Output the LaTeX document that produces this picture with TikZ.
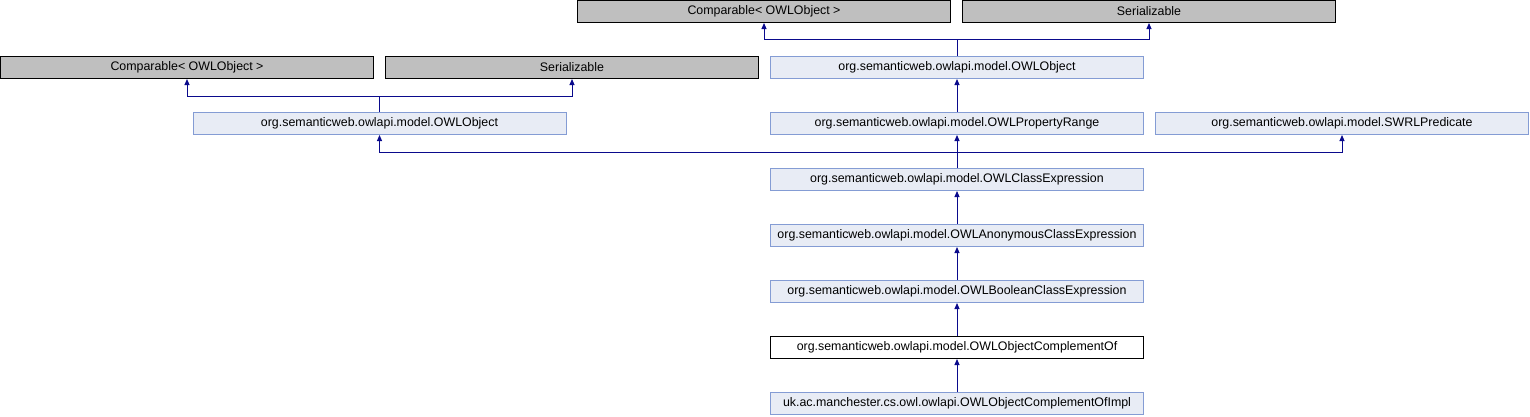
\documentclass[tikz,border=0pt]{standalone}
\usepackage{fontspec}
\setmainfont{Liberation Sans}
\usepackage{tikz}
\usetikzlibrary{arrows.meta, positioning, calc}
\definecolor{edgeblue}{RGB}{10,10,140}
\definecolor{clsfill}{RGB}{232,236,245}
\definecolor{clsdraw}{RGB}{132,156,212}
\definecolor{extfill}{RGB}{191,191,191}
\tikzset{
  clsbox/.style={rectangle, draw=clsdraw, fill=clsfill, line width=1pt,
    minimum width=373pt, minimum height=22pt, inner sep=0pt,
    font=\fontsize{12.4}{14}\selectfont},
  extbox/.style={clsbox, draw=black, fill=extfill},
  thisbox/.style={clsbox, draw=black, fill=white},
  inh/.style={{Triangle[length=6pt,width=5pt]}-, line width=1pt, color=edgeblue}
}

\begin{document}
\begin{tikzpicture}[x=1pt, y=-1pt]
  \useasboundingbox (0,0) rectangle (1530,416);

  % Top interfaces
  \node[extbox] (compT) at (764,11.5) {Comparable< OWLObject >};
  \node[extbox] (serT) at (1149,11.5) {Serializable};

  % Second row
  \node[extbox] (compL) at (187,67.5) {Comparable< OWLObject >};
  \node[extbox] (serL) at (572,67.5) {Serializable};
  \node[clsbox] (objR) at (957,67.5) {org.semanticweb.owlapi.model.OWLObject};

  % Third row
  \node[clsbox] (objL) at (379.5,123.5) {org.semanticweb.owlapi.model.OWLObject};
  \node[clsbox] (range) at (957,123.5) {org.semanticweb.owlapi.model.OWLPropertyRange};
  \node[clsbox] (swrl) at (1342,123.5) {org.semanticweb.owlapi.model.SWRLPredicate};

  % Main chain
  \node[clsbox] (clsx) at (957,179.5) {org.semanticweb.owlapi.model.OWLClassExpression};
  \node[clsbox] (anon) at (957,235.5) {org.semanticweb.owlapi.model.OWLAnonymousClassExpression};
  \node[clsbox] (bool) at (957,291.5) {org.semanticweb.owlapi.model.OWLBooleanClassExpression};
  \node[thisbox] (compl) at (957,347.5) {org.semanticweb.owlapi.model.OWLObjectComplementOf};
  \node[clsbox] (impl) at (957,403.5) {uk.ac.manchester.cs.owl.owlapi.OWLObjectComplementOfImpl};

  % Inheritance edges
  \draw[inh] (compT.south) |- ($(objR.north)+(0,-17)$) -- (objR.north);
  \draw[inh] (serT.south) |- ($(objR.north)+(0,-17)$);
  \draw[inh] (compL.south) |- ($(objL.north)+(0,-16)$) -- (objL.north);
  \draw[inh] (serL.south) |- ($(objL.north)+(0,-16)$);
  \draw[inh] (objR.south) -- (range.north);
  \draw[inh] (objL.south) |- ($(clsx.north)+(0,-16)$) -- (clsx.north);
  \draw[inh] (range.south) -- (clsx.north);
  \draw[inh] (swrl.south) |- ($(clsx.north)+(0,-16)$);
  \draw[inh] (clsx.south) -- (anon.north);
  \draw[inh] (anon.south) -- (bool.north);
  \draw[inh] (bool.south) -- (compl.north);
  \draw[inh] (compl.south) -- (impl.north);
\end{tikzpicture}
\end{document}
